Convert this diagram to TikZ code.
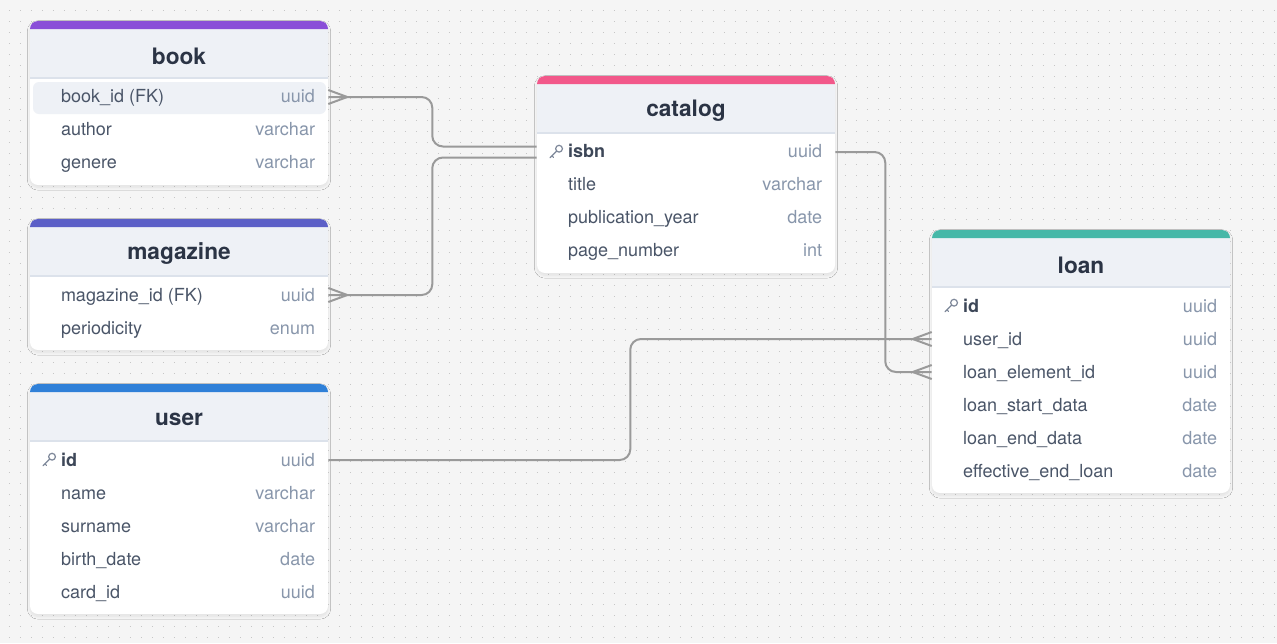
\documentclass[tikz,border=0pt]{standalone}
\usepackage{fontspec}
\setmainfont{TeX Gyre Heros}
\usetikzlibrary{calc,shadows.blur}

\definecolor{canvas}{HTML}{F5F5F5}
\definecolor{dotcol}{HTML}{C6C6C6}
\definecolor{headfill}{HTML}{EEF1F6}
\definecolor{sepcol}{HTML}{DCE2EB}
\definecolor{titlecol}{HTML}{2B3445}
\definecolor{namecol}{HTML}{4A5568}
\definecolor{keycol}{HTML}{3D4758}
\definecolor{typecol}{HTML}{8896AB}
\definecolor{linkcol}{HTML}{9A9A9A}
\definecolor{keyicon}{HTML}{7D8799}
\definecolor{bookcol}{HTML}{8A4FD8}
\definecolor{magcol}{HTML}{5B5FC7}
\definecolor{usercol}{HTML}{2F80D8}
\definecolor{catcol}{HTML}{F2588A}
\definecolor{loancol}{HTML}{46B8A8}

% table frame: #1 name, #2 left, #3 top, #4 rows, #5 colour, #6 title
\newcommand{\erdtable}[6]{%
  \pgfmathsetmacro{\tblB}{#3+65+33*#4}
  \fill[white, rounded corners=6pt, tableshadow] (#2,#3) rectangle ({#2+298},\tblB);
  \fill[headfill] (#2,{#3+57}) [rounded corners=6pt] -- (#2,#3) -- ({#2+298},#3) [sharp corners] -- ({#2+298},{#3+57}) -- cycle;
  \fill[#5] (#2,{#3+8}) [rounded corners=6pt] -- (#2,#3) -- ({#2+298},#3) [sharp corners] -- ({#2+298},{#3+8}) -- cycle;
  \draw[sepline] (#2,{#3+57}) -- ({#2+298},{#3+57});
  \node[tabletitle] (#1) at ({#2+149},{#3+35}) {#6};
}

% key symbol centred at #1
\newcommand{\keysym}[1]{%
  \begin{scope}[shift={#1}]
    \draw[keystroke] (3.3,-3.3) circle (3.4);
    \draw[keystroke] (0.9,-0.9) -- (-5.8,5.8) (-3.8,3.8) -- (-2.2,5.4);
  \end{scope}
}

% rows: #1 name, #2 left, #3 top, #4 list name/type/key
\newcommand{\erdrows}[4]{%
  \foreach \fname/\ftype/\fkey [count=\i] in {#4} {
    \node[rowbox] (#1-\i) at ({#2+149},{#3+76+33*(\i-1)}) {};
    \ifnum\fkey=1
      \keysym{($(#1-\i.west)+(19,0)$)}
      \node[keyname] at ($(#1-\i.west)+(31,2.5)$) {\fname};
    \else
      \node[fieldname] at ($(#1-\i.west)+(31,2.5)$) {\fname};
    \fi
    \node[fieldtype] at ($(#1-\i.east)+(-13,2.5)$) {\ftype};
  }
}

% crow's foot at #1, pointing away by #2
\newcommand{\crowfoot}[2]{%
  \draw[link, sharp corners] ($(#1)+(0,-7)$) -- ($(#1)+(#2,0)$) -- ($(#1)+(0,7)$);
}

\begin{document}
\begin{tikzpicture}[x=0.75pt, y=-0.75pt,
    griddot/.style={draw=dotcol, line width=0.9pt, dash pattern=on 0.8pt off 7.45pt},
    tableshadow/.style={blur shadow={shadow xshift=0pt, shadow yshift=-1.8pt, shadow blur radius=2pt, shadow blur steps=6, shadow opacity=8}},
    sepline/.style={draw=sepcol, line width=1.5pt},
    tabletitle/.style={inner sep=0pt, text=titlecol, font=\fontsize{17}{20}\selectfont\bfseries},
    rowbox/.style={inner sep=0pt, minimum width=223.5pt, minimum height=24.75pt},
    fieldname/.style={anchor=mid west, inner sep=0pt, text=namecol, font=\fontsize{13.5}{16}\selectfont},
    keyname/.style={fieldname, text=keycol, font=\fontsize{13.5}{16}\selectfont\bfseries},
    fieldtype/.style={anchor=mid east, inner sep=0pt, text=typecol, font=\fontsize{13.5}{16}\selectfont},
    keystroke/.style={draw=keyicon, line width=0.9pt, line cap=round},
    link/.style={draw=linkcol, line width=1.5pt, rounded corners=8pt}]

  % canvas with dot grid
  \useasboundingbox (0,0) rectangle (1277,643);
  \fill[canvas] (0,0) rectangle (1277,643);
  \foreach \y in {10.3,21.3,...,637.3}
    \draw[griddot] (8.8,\y) -- (1277,\y);

  % tables
  \erdtable{book}{30}{21}{3}{bookcol}{book}
  \fill[headfill, rounded corners=4.5pt] (33,82) rectangle (326,114);
  \erdrows{book}{30}{21}{book\_id (FK)/uuid/0, author/varchar/0, genere/varchar/0}

  \erdtable{magazine}{30}{219}{2}{magcol}{magazine}
  \erdrows{magazine}{30}{219}{magazine\_id (FK)/uuid/0, periodicity/enum/0}

  \erdtable{user}{30}{384}{5}{usercol}{user}
  \erdrows{user}{30}{384}{id/uuid/1, name/varchar/0, surname/varchar/0, birth\_date/date/0, card\_id/uuid/0}

  \erdtable{catalog}{537}{76}{4}{catcol}{catalog}
  \erdrows{catalog}{537}{76}{isbn/uuid/1, title/varchar/0, publication\_year/date/0, page\_number/int/0}

  \erdtable{loan}{932}{230}{6}{loancol}{loan}
  \erdrows{loan}{932}{230}{id/uuid/1, user\_id/uuid/0, loan\_element\_id/uuid/0, loan\_start\_data/date/0, loan\_end\_data/date/0, effective\_end\_loan/date/0}

  % relations
  \draw[link] (book-1.east) -- ++(104,0) |- ($(catalog-1.west)+(0,-5.5)$);
  \crowfoot{book-1.east}{19}
  \draw[link] (magazine-1.east) -- ++(104,0) |- ($(catalog-1.west)+(0,5.5)$);
  \crowfoot{magazine-1.east}{19}
  \draw[link] (catalog-1.east) -- ++(50,0) |- (loan-3.west);
  \crowfoot{loan-3.west}{-19}
  \draw[link] (user-1.east) -- ++(302,0) |- (loan-2.west);
  \crowfoot{loan-2.west}{-19}

\end{tikzpicture}
\end{document}
